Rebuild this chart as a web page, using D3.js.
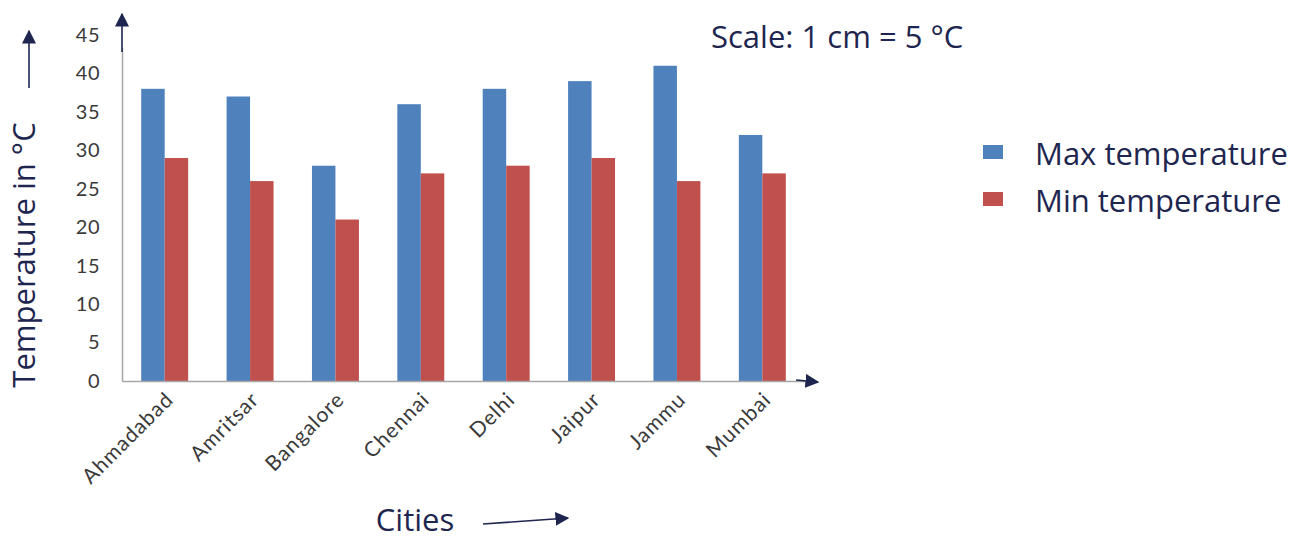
<!DOCTYPE html>
<html>
<head>
<meta charset="utf-8">
<script src="https://cdn.jsdelivr.net/npm/d3@7"></script>
<style>
  body { margin: 0; background: #fff; }
  svg { display: block; }
</style>
</head>
<body>
<svg id="chart" width="1299" height="540"></svg>
<script>
const cities = ["Ahmadabad", "Amritsar", "Bangalore", "Chennai", "Delhi", "Jaipur", "Jammu", "Mumbai"];
const maxTemp = [38, 37, 28, 36, 38, 39, 41, 32];
const minTemp = [29, 26, 21, 27, 28, 29, 26, 27];
const seriesNames = ["Max temperature", "Min temperature"];
const yTicks = [0, 5, 10, 15, 20, 25, 30, 35, 40, 45];

const colors = ["#4f81bd", "#c0504d"];
const navy = "#1e2650";

let svg = d3.select("#chart");

let x0 = d3.scaleBand().domain(cities).range([122, 805]).paddingInner(0.45).paddingOuter(0.225);
let x1 = d3.scaleBand().domain(seriesNames).range([0, x0.bandwidth()]);
let y = d3.scaleLinear().domain([0, 45]).range([381, 35]);

let rows = cities.map((c, i) => ({city: c, values: [maxTemp[i], minTemp[i]]}));

// bars
let groups = svg.append("g").selectAll("g")
    .data(rows)
    .join("g")
    .attr("transform", d => "translate(" + x0(d.city) + ",0)");
groups.selectAll("rect")
    .data(d => d.values.map((v, i) => ({key: seriesNames[i], value: v, i: i})))
    .join("rect")
    .attr("x", d => x1(d.key))
    .attr("y", d => y(d.value))
    .attr("width", x1.bandwidth())
    .attr("height", d => y(0) - y(d.value))
    .attr("fill", d => colors[d.i]);

// y axis
let yAxis = svg.append("g")
    .attr("transform", "translate(122,0)")
    .call(d3.axisLeft(y).tickValues(yTicks).tickSize(0).tickPadding(22));
yAxis.select(".domain").remove();
yAxis.selectAll("text")
    .attr("font-family", "Lato, 'Open Sans', sans-serif")
    .attr("font-size", 20)
    .attr("letter-spacing", 0.5)
    .attr("fill", "#3a3a3a");
svg.append("line")
    .attr("x1", 122.5).attr("x2", 122.5)
    .attr("y1", 48).attr("y2", 381)
    .attr("stroke", "#a6a6a6").attr("stroke-width", 1.5);

// x axis
let xAxis = svg.append("g")
    .attr("transform", "translate(0,381)")
    .call(d3.axisBottom(x0).tickSize(0).tickPadding(0));
xAxis.select(".domain").remove();
xAxis.selectAll("text")
    .attr("font-family", "Lato, 'Open Sans', sans-serif")
    .attr("font-size", 21)
    .attr("letter-spacing", 1)
    .attr("fill", "#3a3a3a")
    .attr("text-anchor", "end")
    .attr("dy", 0)
    .attr("transform", "translate(10,20) rotate(-45)");
svg.append("line")
    .attr("x1", 122).attr("x2", 805)
    .attr("y1", 381.5).attr("y2", 381.5)
    .attr("stroke", "#a6a6a6").attr("stroke-width", 1.5);

// arrows
let defs = svg.append("defs");
defs.append("marker")
    .attr("id", "head")
    .attr("viewBox", "0 0 10 10")
    .attr("refX", 9).attr("refY", 5)
    .attr("markerWidth", 14).attr("markerHeight", 14)
    .attr("markerUnits", "userSpaceOnUse")
    .attr("orient", "auto")
    .append("path")
    .attr("d", "M0,0 L10,5 L0,10 Z")
    .attr("fill", navy);

let arrows = [
    [122, 52, 122, 14],
    [796, 380, 818, 382],
    [29, 88, 29, 31],
    [483, 524, 568, 518]
];
svg.append("g").selectAll("line")
    .data(arrows)
    .join("line")
    .attr("x1", d => d[0]).attr("y1", d => d[1])
    .attr("x2", d => d[2]).attr("y2", d => d[3])
    .attr("stroke", navy)
    .attr("stroke-width", 1.6)
    .attr("marker-end", "url(#head)");

// titles
const titleFont = "'Open Sans', sans-serif";
svg.append("text")
    .attr("transform", "translate(35,255) rotate(-90)")
    .attr("text-anchor", "middle")
    .attr("font-family", titleFont)
    .attr("font-size", 31)
    .attr("fill", navy)
    .text("Temperature in °C");
svg.append("text")
    .attr("x", 415).attr("y", 531)
    .attr("text-anchor", "middle")
    .attr("font-family", titleFont)
    .attr("font-size", 31)
    .attr("fill", navy)
    .text("Cities");
svg.append("text")
    .attr("x", 711).attr("y", 48)
    .attr("font-family", titleFont)
    .attr("font-size", 31)
    .attr("fill", navy)
    .text("Scale: 1 cm = 5 °C");

// legend
let legend = svg.append("g").selectAll("g")
    .data(seriesNames)
    .join("g")
    .attr("transform", (d, i) => "translate(983," + (145 + i * 47) + ")");
legend.append("rect")
    .attr("width", 20).attr("height", 14)
    .attr("fill", (d, i) => colors[i]);
legend.append("text")
    .attr("x", 52).attr("y", 20)
    .attr("font-family", titleFont)
    .attr("font-size", 31)
    .attr("fill", navy)
    .text(d => d);
</script>
</body>
</html>
